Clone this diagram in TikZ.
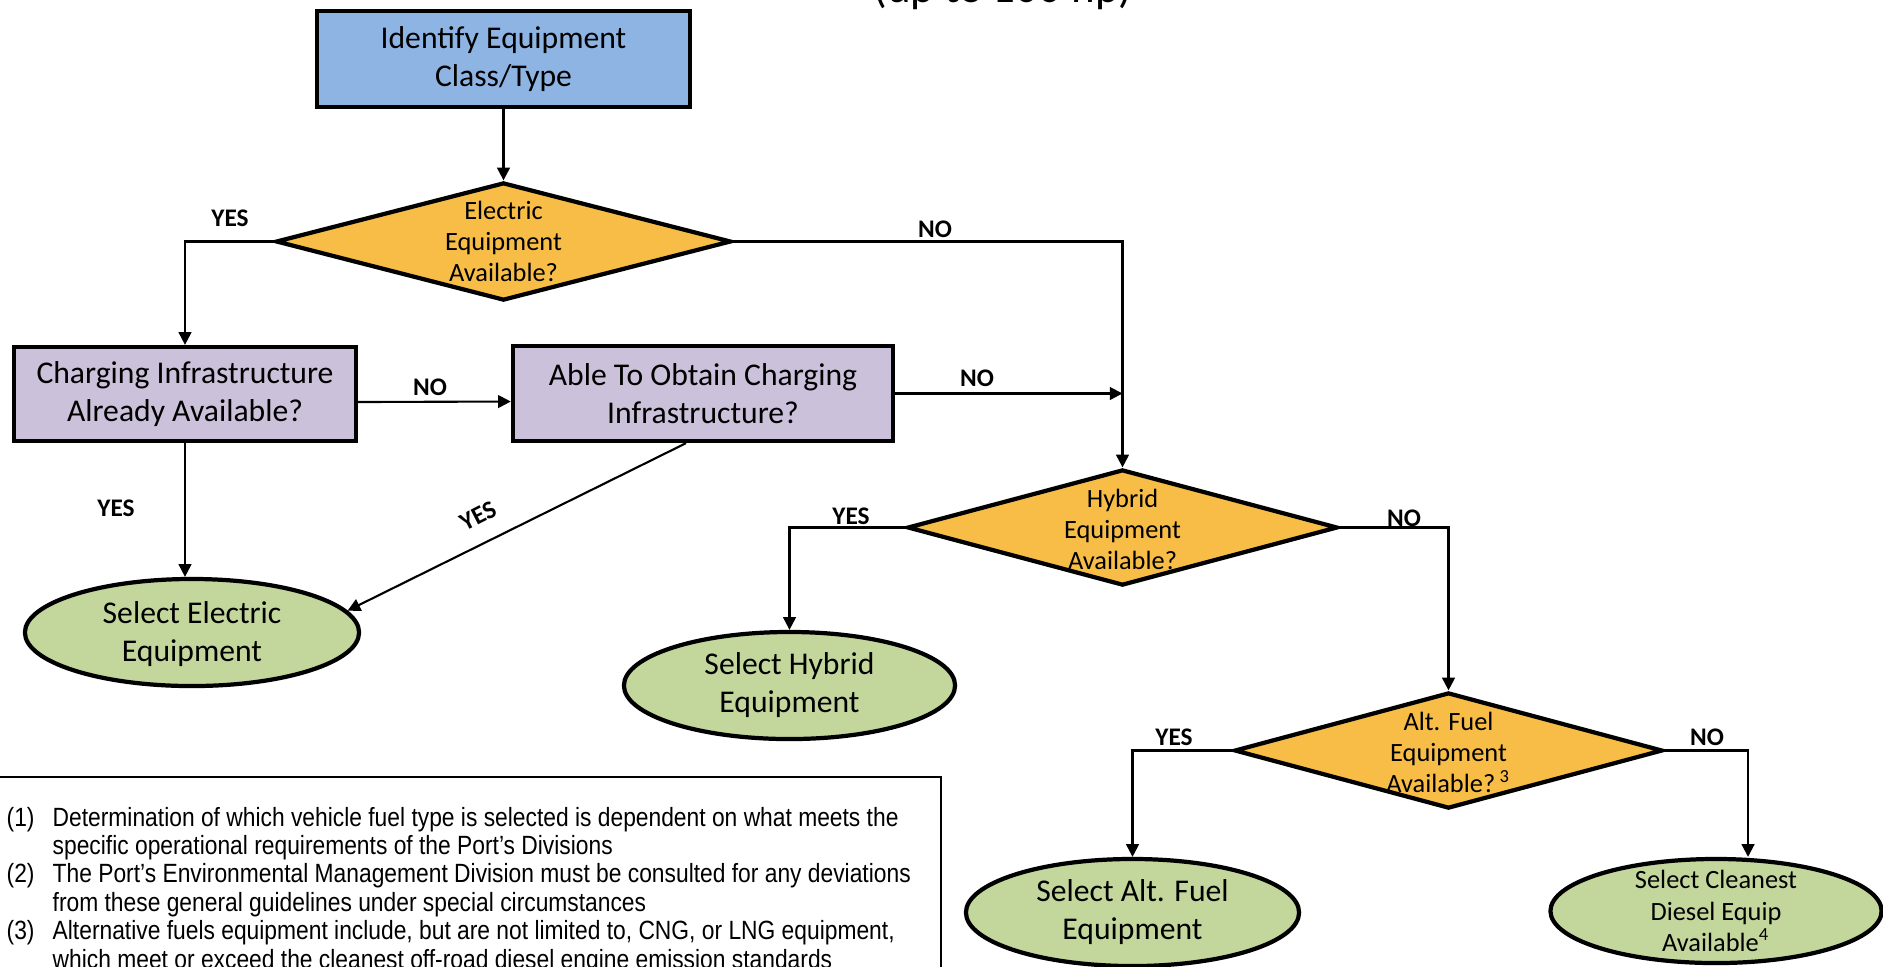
\documentclass[tikz,border=0pt]{standalone}
\usepackage{fontspec}
\setmainfont{Carlito}
\newfontfamily\narrowfont[FakeStretch=0.865]{Liberation Sans}
\usetikzlibrary{shapes.geometric,arrows.meta}
\definecolor{boxblue}{RGB}{142,180,227}
\definecolor{boxpurple}{RGB}{204,193,218}
\definecolor{diamorange}{RGB}{247,189,71}
\definecolor{ellgreen}{RGB}{195,214,155}
\begin{document}
\begin{tikzpicture}[x=0.01cm,y=-0.01cm,
  bigtext/.style={font=\fontsize{9}{10.8}\selectfont},
  smalltext/.style={font=\fontsize{7.5}{8.9}\selectfont},
  procbox/.style={draw=black,line width=1.2pt,inner sep=0pt,align=center,bigtext},
  diam/.style={draw=black,line width=1.2pt,shape=diamond,fill=diamorange,inner sep=0pt},
  ell/.style={draw=black,line width=1.2pt,shape=ellipse,fill=ellgreen,inner sep=0pt},
  inlabel/.style={align=center,inner sep=0pt},
  conn/.style={line width=0.6pt,-{Triangle[length=3.6pt,width=3.6pt]}},
  plainline/.style={line width=0.6pt},
  yn/.style={font=\fontsize{7.2}{8.6}\selectfont\bfseries,inner sep=0pt},
  fnline/.style={anchor=base west,inner sep=0pt,font=\narrowfont\fontsize{7.5}{8.1}\selectfont}
]
\useasboundingbox (0,0) rectangle (1883,966);

% title fragment
\node[font=\fontsize{12.8}{15}\selectfont,anchor=base,inner sep=0pt] (ttl) at (1003,2) {(up to 100 hp)};

% process boxes
\node[procbox,fill=boxblue,minimum width=3.73cm,minimum height=0.96cm] (ident) at (503.5,59) {Identify Equipment\\Class/Type};
\node[procbox,fill=boxpurple,minimum width=3.42cm,minimum height=0.94cm] (cb) at (185,394) {Charging Infrastructure\\Already Available?};
\node[procbox,fill=boxpurple,minimum width=3.80cm,minimum height=0.95cm] (ab) at (703,393.5) {Able To Obtain Charging\\Infrastructure?};

% decision diamonds
\node[diam,minimum width=4.55cm,minimum height=1.18cm] (d1) at (503.5,241.5) {};
\node[inlabel,smalltext] (d1t) at (d1.center) {Electric\\Equipment\\Available?};
\node[diam,minimum width=4.30cm,minimum height=1.16cm] (d2) at (1122.5,527.5) {};
\node[inlabel,smalltext] (d2t) at ([yshift=-0.02cm]d2.center) {Hybrid\\Equipment\\Available?};
\node[diam,minimum width=4.28cm,minimum height=1.16cm] (d3) at (1448.5,750.5) {};
\node[inlabel,smalltext] (d3t) at ([yshift=-0.02cm]d3.center) {Alt. Fuel\\Equipment\\Available?\,\textsuperscript{3}};

% terminal ellipses
\node[ell,minimum width=3.34cm,minimum height=1.07cm] (e1) at (192,632.5) {};
\node[inlabel,bigtext] (e1t) at ([yshift=-0.02cm]e1.center) {Select Electric\\Equipment};
\node[ell,minimum width=3.31cm,minimum height=1.07cm] (e2) at (789.5,685.5) {};
\node[inlabel,bigtext] (e2t) at (e2.center) {Select Hybrid\\Equipment};
\node[ell,minimum width=3.33cm,minimum height=1.07cm] (e3) at (1132.5,912.5) {};
\node[inlabel,bigtext] (e3t) at (e3.center) {Select Alt. Fuel\\Equipment};
\node[ell,minimum width=3.31cm,minimum height=1.04cm] (e4) at (1716,911) {};
\node[inlabel,smalltext] (e4t) at (e4.center) {Select Cleanest\\Diesel Equip\\Available\textsuperscript{4}};

% connectors
\draw[conn] (ident.south) -- (d1.north);
\draw[conn] (d1.west) -| (cb.north);
\draw[conn] (d1.east) -| (d2.north);
\draw[conn] ([yshift=-0.08cm]cb.east) -- ([yshift=-0.08cm]ab.west);
\coordinate (j1) at (d2.north |- ab.east);
\draw[conn] (ab.east) -- (j1);
\draw[conn] (cb.south) -- (cb.south |- e1.north);
\draw[conn] ([xshift=-0.17cm]ab.south) -- (e1.8);
\draw[conn] (d2.west) -| (e2.north);
\draw[conn] (d2.east) -| (d3.north);
\draw[conn] (d3.west) -| (e3.north);
\draw[conn] (d3.east) -| ([xshift=0.32cm]e4.north);

% yes / no labels
\node[yn] (l1) at (230,218) {YES};
\node[yn] (l2) at (935,229) {NO};
\node[yn] (l3) at (430,387) {NO};
\node[yn] (l4) at (977,378) {NO};
\node[yn] (l5) at (116,508) {YES};
\node[yn,rotate=27] (l6) at (478,516) {YES};
\node[yn] (l7) at (851,516) {YES};
\node[yn] (l8) at (1404,518) {NO};
\node[yn] (l9) at (1174,737) {YES};
\node[yn] (l10) at (1707,737) {NO};

% footnote box
\draw[plainline] (-5,777) -- (941,777) -- (941,980);
\node[fnline] (n1) at (6,826) {(1)};
\node[fnline] (f1a) at (52,826) {Determination of which vehicle fuel type is selected is dependent on what meets the};
\node[fnline] (f1b) at (52,854.4) {specific operational requirements of the Port’s Divisions};
\node[fnline] (n2) at (6,882.8) {(2)};
\node[fnline] (f2a) at (52,882.8) {The Port’s Environmental Management Division must be consulted for any deviations};
\node[fnline] (f2b) at (52,911.2) {from these general guidelines under special circumstances};
\node[fnline] (n3) at (6,939.6) {(3)};
\node[fnline] (f3a) at (52,939.6) {Alternative fuels equipment include, but are not limited to, CNG, or LNG equipment,};
\node[fnline] (f3b) at (52,968) {which meet or exceed the cleanest off-road diesel engine emission standards};
\end{tikzpicture}
\end{document}
